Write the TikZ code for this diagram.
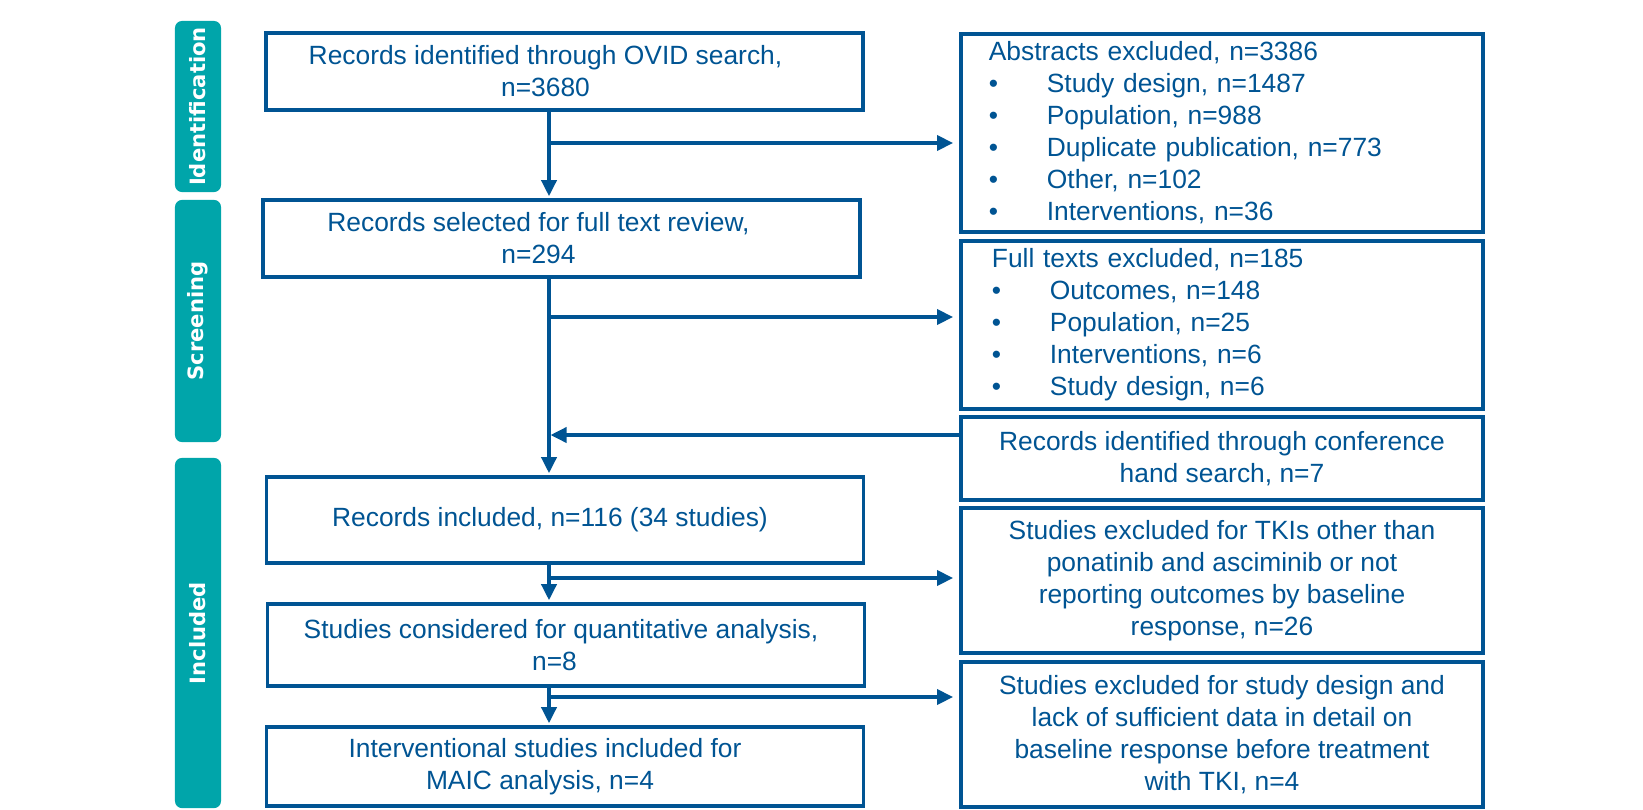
\documentclass[tikz,border=0pt]{standalone}
\usepackage{fontspec}
\setmainfont{Liberation Sans}
\newfontfamily\tabfont{DejaVu Sans}
\usetikzlibrary{arrows.meta,positioning}
\definecolor{prismablue}{RGB}{0,84,147}
\definecolor{prismateal}{RGB}{0,165,170}
\newcommand{\itm}{\makebox[0.58cm][l]{\textbullet}}

\begin{document}
\begin{tikzpicture}[x=0.01cm, y=-0.01cm,
    stage/.style={rectangle, rounded corners=0.07cm, fill=prismateal, minimum height=0.46cm,
                  inner sep=0pt, text=white, font=\tabfont\bfseries\fontsize{6}{7}\selectfont, rotate=90},
    flowbox/.style={rectangle, draw=prismablue, line width=1pt, text=prismablue,
                    minimum width=5.97cm, align=center, inner sep=2pt,
                    font=\fontsize{7.5}{9.1}\selectfont},
    exclbox/.style={flowbox, minimum width=5.22cm},
    listbox/.style={exclbox, align=left, text width=4.66cm, inner xsep=0.28cm},
    arrow/.style={-{Triangle[length=0.16cm,width=0.15cm]}, line width=1pt, prismablue}
]
\useasboundingbox (0,0) rectangle (1643,809);

% stage tabs
\node[stage, minimum width=1.71cm] (ident)  at (198,106.5) {Identification};
\node[stage, minimum width=2.42cm] (screen) at (198,321)   {Screening};
\node[stage, minimum width=3.50cm] (incl)   at (198,633)   {Included};

% main column
\node[flowbox, minimum height=0.77cm] (ovid)     at (564.5,71.5)
    {Records identified through OVID search,\hspace*{0.38cm}\\ n=3680\hspace*{0.38cm}};
\node[flowbox, minimum height=0.77cm] (fulltext) at (561.5,238.5)
    {Records selected for full text review,\hspace*{0.46cm}\\ n=294\hspace*{0.46cm}};
\node[flowbox, minimum height=0.86cm] (included) at (565,520)
    {Records included, n=116 (34 studies)\hspace*{0.30cm}};
\node[flowbox, minimum height=0.82cm] (quant)    at (566,645)
    {Studies considered for quantitative analysis,\hspace*{0.10cm}\\ n=8\hspace*{0.23cm}};
\node[flowbox, minimum height=0.79cm] (maic)     at (565,766.5)
    {Interventional studies included for\hspace*{0.40cm}\\ MAIC analysis, n=4\hspace*{0.50cm}};

% exclusions
\node[listbox, minimum height=1.98cm] (abstr) at (1222,133)
    {Abstracts excluded, n=3386\\ \itm Study design, n=1487\\ \itm Population, n=988\\
     \itm Duplicate publication, n=773\\ \itm Other, n=102\\ \itm Interventions, n=36};
\node[listbox, inner xsep=0.31cm, text width=4.60cm, minimum height=1.68cm] (ftexcl) at (1222,325)
    {Full texts excluded, n=185\\ \itm Outcomes, n=148\\ \itm Population, n=25\\
     \itm Interventions, n=6\\ \itm Study design, n=6};
\node[exclbox, minimum height=0.83cm] (conf) at (1222,458.5)
    {Records identified through conference\\ hand search, n=7};
\node[exclbox, minimum height=1.45cm] (tkiexcl) at (1222,580.5)
    {Studies excluded for TKIs other than\\ ponatinib and asciminib or not\\ reporting outcomes by baseline\\ response, n=26};
\node[exclbox, minimum height=1.45cm] (designexcl) at (1222,734.5)
    {Studies excluded for study design and\\ lack of sufficient data in detail on\\ baseline response before treatment\\ with TKI, n=4};

% spine and branch points
\coordinate (spine) at (549,0);
\coordinate (b1) at (549,143);
\coordinate (b2) at (549,317);
\coordinate (b3) at (549,435);
\coordinate (b4) at (549,578);
\coordinate (b5) at (549,697);

\draw[arrow, shorten >=0.02cm] (ovid.south -| spine)     -- (fulltext.north -| spine);
\draw[arrow, shorten >=0.02cm] (fulltext.south -| spine) -- (included.north -| spine);
\draw[arrow, shorten >=0.02cm] (included.south -| spine) -- (quant.north -| spine);
\draw[arrow, shorten >=0.02cm] (quant.south -| spine)    -- (maic.north -| spine);

\draw[arrow, shorten >=0.06cm] (b1) -- (b1 -| abstr.west);
\draw[arrow, shorten >=0.06cm] (b2) -- (b2 -| ftexcl.west);
\draw[arrow, shorten >=0.015cm] (b3 -| conf.west) -- (b3);
\draw[arrow, shorten >=0.06cm] (b4) -- (b4 -| tkiexcl.west);
\draw[arrow, shorten >=0.06cm] (b5) -- (b5 -| designexcl.west);
\end{tikzpicture}
\end{document}
